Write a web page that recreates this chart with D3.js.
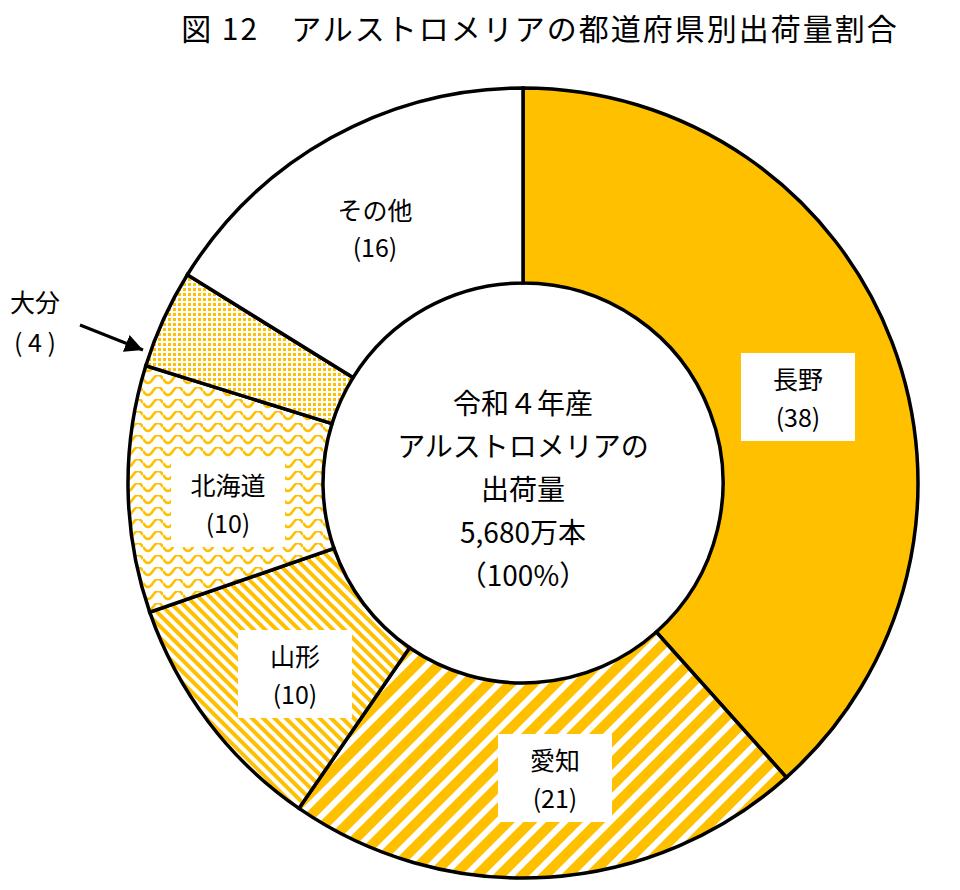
<!DOCTYPE html><html><head><meta charset="utf-8"><script src="https://cdn.jsdelivr.net/npm/d3@7"></script>
<style>body{margin:0;background:#fff}</style></head><body><svg id="c" width="960" height="890"></svg>
<script>
const categories=["長野","愛知","山形","北海道","大分","その他"];
const values=[38,21,10,10,4,16];
const patterns=["solid","wide","thin","wave","dots","none"];
const svg=d3.select("#c");const F="'Noto Sans CJK JP',sans-serif";
const Y="#FFC000";
const defs=svg.append("defs");
let p=defs.append("pattern").attr("id","wide").attr("width",16).attr("height",16).attr("patternUnits","userSpaceOnUse").attr("patternTransform","rotate(45)");
p.append("rect").attr("width",16).attr("height",16).attr("fill","#fff");p.append("rect").attr("width",10).attr("height",16).attr("fill",Y);
p=defs.append("pattern").attr("id","thin").attr("width",8).attr("height",8).attr("patternUnits","userSpaceOnUse").attr("patternTransform","rotate(-45)");
p.append("rect").attr("width",8).attr("height",8).attr("fill","#fff");p.append("rect").attr("width",4).attr("height",8).attr("fill",Y);
p=defs.append("pattern").attr("id","wave").attr("width",20).attr("height",12).attr("patternUnits","userSpaceOnUse");
p.append("rect").attr("width",20).attr("height",12).attr("fill","#fff");p.append("path").attr("d","M0,4 Q5,12 10,4 T20,4").attr("fill","none").attr("stroke",Y).attr("stroke-width",2.5);
p=defs.append("pattern").attr("id","dots").attr("width",5).attr("height",5).attr("patternUnits","userSpaceOnUse");
p.append("rect").attr("width",5).attr("height",5).attr("fill","#fff");p.append("rect").attr("width",3).attr("height",3).attr("fill",Y);
const fill=k=>k=="solid"?Y:k=="none"?"#fff":`url(#${k})`;
const cx=523,cy=483,R=395,r=200;
const g=svg.append("g").attr("transform",`translate(${cx},${cy})`);
const arcs=d3.pie().sort(null)(values);
const arc=d3.arc().innerRadius(r).outerRadius(R);
g.selectAll("path").data(arcs).join("path").attr("d",arc).attr("fill",(d,i)=>fill(patterns[i])).attr("stroke","#000").attr("stroke-width",3.5);
const boxes=[[798,397],[555,778],[295,674],[228,503]];
boxes.forEach((b,i)=>{svg.append("rect").attr("x",b[0]-57).attr("y",b[1]-44).attr("width",114).attr("height",88).attr("fill","#fff");
svg.append("text").attr("x",b[0]).attr("y",b[1]-8).attr("text-anchor","middle").attr("font-family",F).attr("font-size",25).text(categories[i]);
svg.append("text").attr("x",b[0]).attr("y",b[1]+30).attr("text-anchor","middle").attr("font-family",F).attr("font-size",25).text(`(${values[i]})`);});
svg.append("text").attr("x",375).attr("y",220).attr("text-anchor","middle").attr("font-family",F).attr("font-size",25).text(categories[5]);
svg.append("text").attr("x",375).attr("y",257).attr("text-anchor","middle").attr("font-family",F).attr("font-size",25).text(`(${values[5]})`);
svg.append("text").attr("x",35).attr("y",312).attr("text-anchor","middle").attr("font-family",F).attr("font-size",25).text(categories[4]);
svg.append("text").attr("x",35).attr("y",352).attr("text-anchor","middle").attr("font-family",F).attr("font-size",25).text(`( ${values[4]} )`);
defs.append("marker").attr("id","ah").attr("viewBox","0 0 10 10").attr("refX",10).attr("refY",5).attr("markerWidth",6).attr("markerHeight",6).attr("orient","auto").append("path").attr("d","M0,0L10,5L0,10z");
svg.append("line").attr("x1",80).attr("y1",325).attr("x2",143).attr("y2",350).attr("stroke","#000").attr("stroke-width",3).attr("marker-end","url(#ah)");
["令和４年産","アルストロメリアの","出荷量","5,680万本","（100%）"].forEach((t,i)=>svg.append("text").attr("x",cx).attr("y",414+i*43).attr("text-anchor","middle").attr("font-family",F).attr("font-size",28).text(t));
svg.append("text").attr("x",540).attr("y",40).attr("text-anchor","middle").attr("font-family",F).attr("font-size",30).attr("letter-spacing",2).text("図 12　アルストロメリアの都道府県別出荷量割合");
</script></body></html>
